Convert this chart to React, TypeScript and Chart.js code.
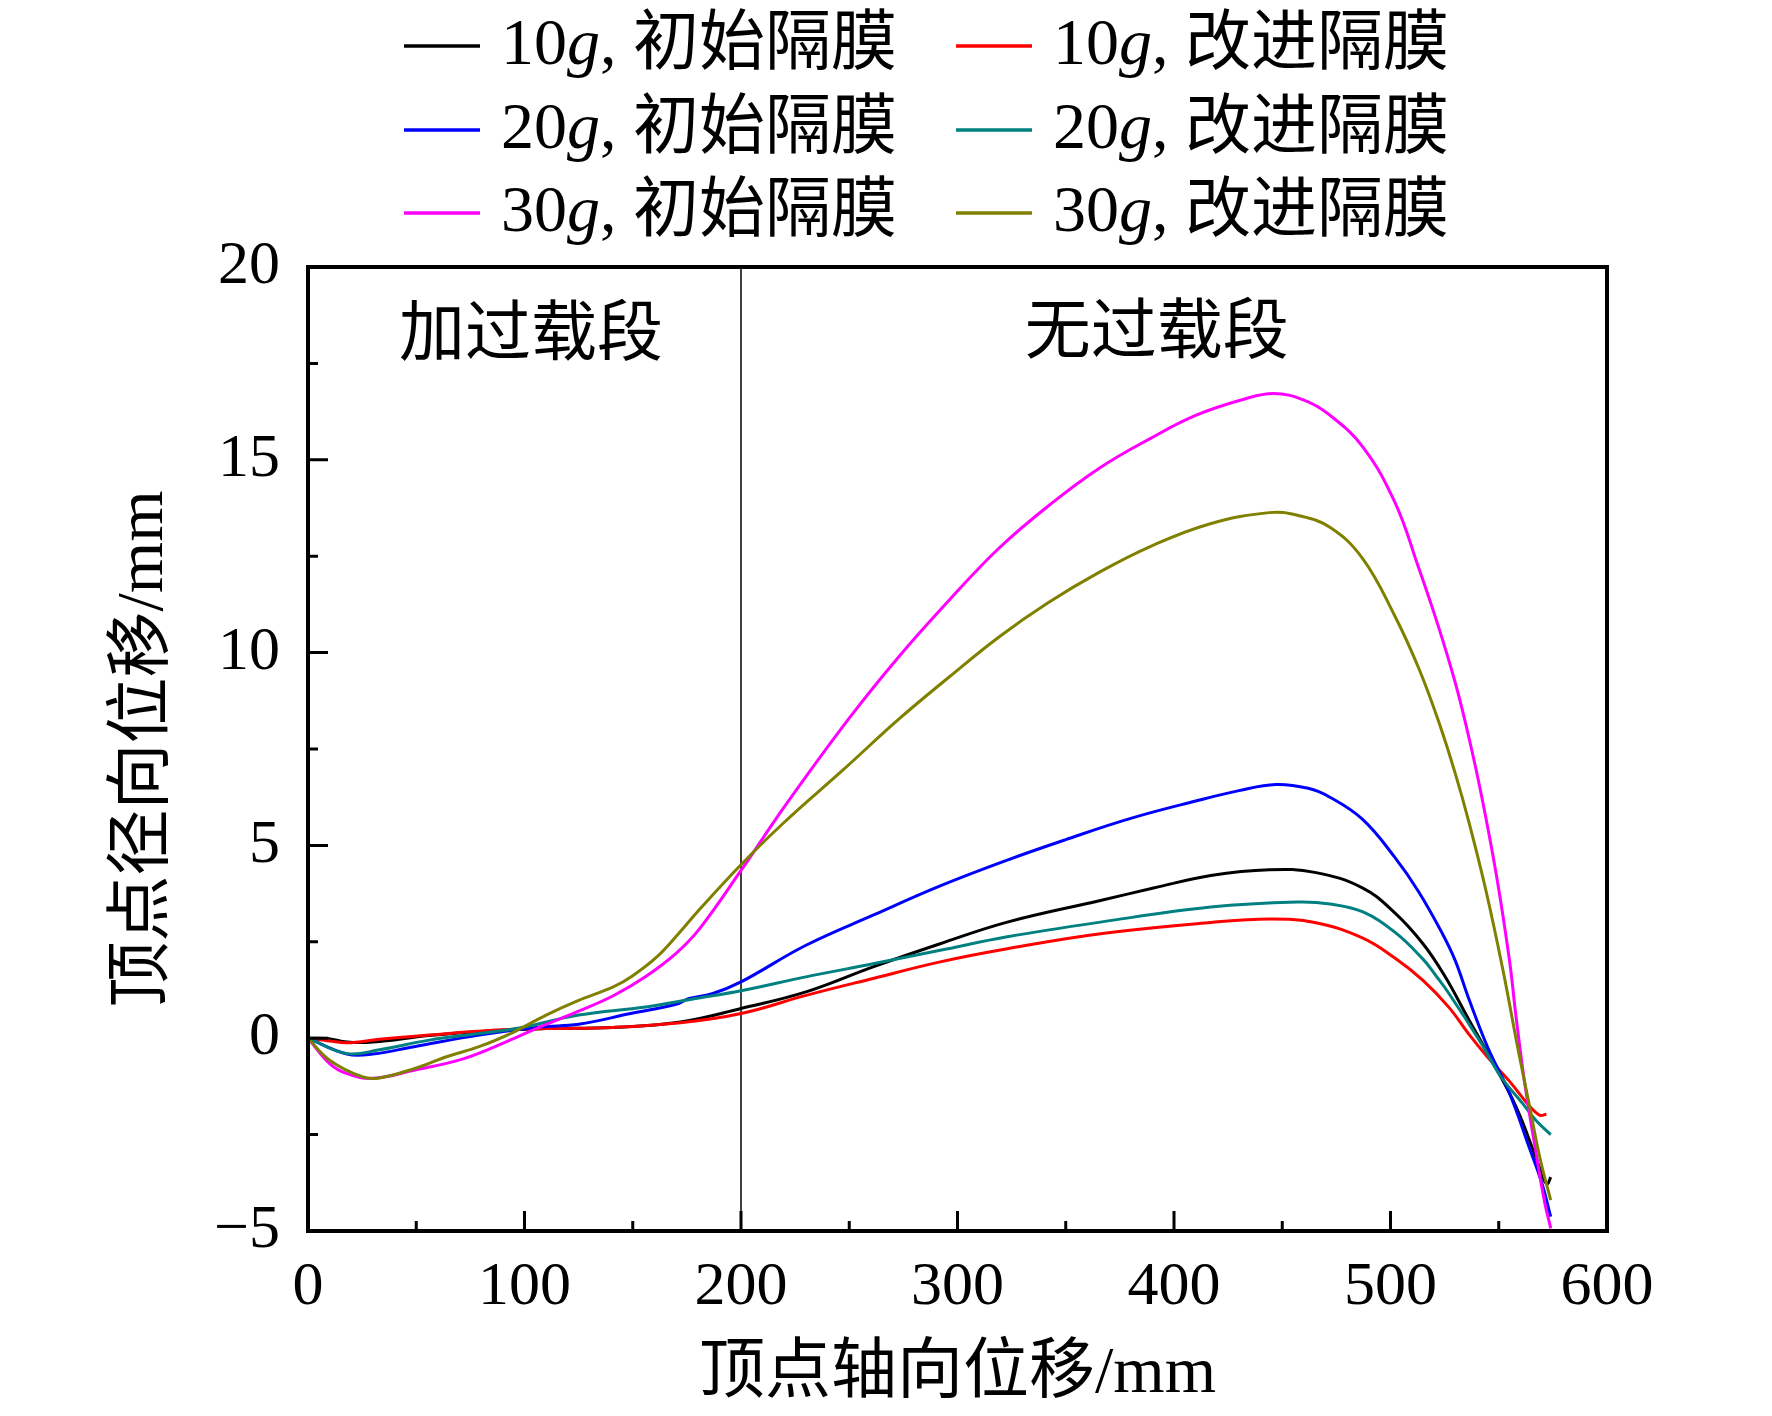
import { useEffect, useRef } from 'react';
import { Chart, registerables } from 'chart.js';

Chart.register(...registerables);

const SERIF = '"Liberation Serif", "Times New Roman", "Noto Sans CJK SC", serif';

// axis ticks
const xTicks = [0, 100, 200, 300, 400, 500, 600];
const xMinorTicks = [50, 150, 250, 350, 450, 550];
const yTicks = [-5, 0, 5, 10, 15, 20];
const yMinorTicks = [-2.5, 2.5, 7.5, 12.5, 17.5];

const xTitle = '顶点轴向位移/mm';
const yTitle = '顶点径向位移/mm';
const zoneLabels = ['加过载段', '无过载段'];
const zoneSplit = 200;

const seriesLabels = [
  '10g, 初始隔膜', '10g, 改进隔膜',
  '20g, 初始隔膜', '20g, 改进隔膜',
  '30g, 初始隔膜', '30g, 改进隔膜',
];
const seriesColors = ['#000000', '#ff0000', '#0000ff', '#008080', '#ff00ff', '#808000'];

// 10g, 初始隔膜
const x10a = [0, 9, 18, 30, 56, 87, 110, 141, 172, 200, 230, 261, 292, 323, 366, 391, 417, 444, 465, 487, 502, 515, 525, 536, 547, 558, 567, 571, 572.5, 574];
const y10a = [0, -0.01, -0.1, -0.1, 0.07, 0.2, 0.25, 0.28, 0.42, 0.77, 1.2, 1.85, 2.45, 3.01, 3.57, 3.9, 4.22, 4.37, 4.3, 3.9, 3.25, 2.45, 1.62, 0.5, -0.6, -1.78, -3.07, -3.68, -3.78, -3.6];

// 10g, 改进隔膜
const x10b = [0, 10, 18, 33, 56, 87, 110, 141, 172, 200, 230, 261, 292, 323, 366, 417, 444, 465, 487, 502, 515, 527, 536, 545, 555, 564, 569, 572];
const y10b = [0, -0.07, -0.12, -0.03, 0.08, 0.21, 0.25, 0.28, 0.4, 0.64, 1.11, 1.55, 1.98, 2.32, 2.71, 3.0, 3.09, 3.0, 2.6, 2.08, 1.5, 0.8, 0.12, -0.5, -1.12, -1.75, -2.0, -1.97];

// 20g, 初始隔膜
const x20a = [0, 18, 30, 49, 79, 107, 125, 149, 170, 176, 187, 200, 230, 261, 292, 323, 350, 380, 410, 430, 447, 462, 472, 487, 502, 513, 524, 530, 536, 545, 555, 564, 570, 574];
const y20a = [0, -0.41, -0.41, -0.22, 0.08, 0.29, 0.36, 0.64, 0.88, 1.03, 1.16, 1.46, 2.41, 3.19, 3.95, 4.62, 5.15, 5.7, 6.15, 6.42, 6.58, 6.48, 6.25, 5.68, 4.69, 3.8, 2.71, 2.0, 1.05, -0.25, -1.43, -2.82, -3.77, -4.63];

// 20g, 改进隔膜
const x20b = [0, 18, 33, 56, 79, 99, 125, 156, 179, 200, 230, 261, 292, 323, 366, 417, 457, 472, 487, 502, 515, 521, 527, 542, 551, 561, 567, 574];
const y20b = [0, -0.4, -0.3, -0.05, 0.12, 0.28, 0.6, 0.81, 1.03, 1.23, 1.59, 1.93, 2.28, 2.63, 3.01, 3.4, 3.53, 3.48, 3.28, 2.75, 2.05, 1.62, 1.16, -0.14, -1.0, -1.69, -2.12, -2.5];

// 30g, 初始隔膜
const x30a = [0, 10, 18, 30, 49, 72, 95, 107, 125, 141, 156, 170, 181, 200, 220, 250, 273, 296, 319, 343, 366, 389, 410, 431, 446, 460, 471, 487, 502, 513, 522, 530, 536, 542, 549, 555, 558, 562, 567, 571, 574];
const y30a = [0, -0.66, -0.92, -1.04, -0.83, -0.53, -0.01, 0.29, 0.7, 1.1, 1.6, 2.2, 2.85, 4.35, 6.0, 8.3, 9.9, 11.35, 12.7, 13.85, 14.8, 15.55, 16.15, 16.55, 16.72, 16.55, 16.2, 15.35, 13.9, 12.2, 10.7, 9.2, 7.85, 6.3, 4.2, 2.0, 0.55, -1.17, -2.9, -4.2, -4.93];

// 30g, 改进隔膜
const x30b = [0, 10, 25, 33, 49, 64, 79, 95, 110, 125, 141, 150, 161, 171, 181, 200, 220, 247, 273, 296, 319, 342, 366, 389, 416, 444, 457, 472, 487, 502, 513, 522, 530, 536, 544, 552, 559, 564, 569, 574];
const y30b = [0, -0.57, -1.0, -1.03, -0.79, -0.48, -0.22, 0.16, 0.6, 0.98, 1.33, 1.62, 2.1, 2.7, 3.35, 4.5, 5.6, 6.95, 8.28, 9.36, 10.4, 11.3, 12.1, 12.75, 13.33, 13.63, 13.56, 13.25, 12.45, 10.95, 9.6, 8.25, 6.85, 5.65, 3.85, 1.75, -0.31, -1.7, -3.1, -4.2];

const seriesX = [x10a, x10b, x20a, x20b, x30a, x30b];
const seriesY = [y10a, y10b, y20a, y20b, y30a, y30b];

// legend placement (canvas px)
const LEGEND_COL_X = [404, 956];
const LEGEND_ROW_Y = [46, 130, 213];

const decorPlugin = {
  id: 'decor',
  beforeDatasetsDraw(chart: any) {
    const { ctx, chartArea: a, scales } = chart;
    const px = scales.x.getPixelForValue(zoneSplit);
    ctx.save();
    ctx.strokeStyle = '#000';
    ctx.lineWidth = 1.5;
    ctx.beginPath();
    ctx.moveTo(px, a.top);
    ctx.lineTo(px, a.bottom);
    ctx.stroke();
    ctx.restore();
  },
  afterDatasetsDraw(chart: any) {
    const { ctx, chartArea: a, scales } = chart;
    ctx.save();
    ctx.strokeStyle = '#000';
    ctx.lineWidth = 3;
    ctx.beginPath();
    // inward ticks, bottom axis
    for (const v of xTicks) {
      const p = scales.x.getPixelForValue(v);
      ctx.moveTo(p, a.bottom); ctx.lineTo(p, a.bottom - 20);
    }
    for (const v of xMinorTicks) {
      const p = scales.x.getPixelForValue(v);
      ctx.moveTo(p, a.bottom); ctx.lineTo(p, a.bottom - 10);
    }
    // inward ticks, left axis
    for (const v of yTicks) {
      const p = scales.y.getPixelForValue(v);
      ctx.moveTo(a.left, p); ctx.lineTo(a.left + 20, p);
    }
    for (const v of yMinorTicks) {
      const p = scales.y.getPixelForValue(v);
      ctx.moveTo(a.left, p); ctx.lineTo(a.left + 10, p);
    }
    ctx.stroke();
    ctx.lineWidth = 4;
    ctx.strokeRect(a.left, a.top, a.right - a.left, a.bottom - a.top);
    ctx.restore();
  },
  afterDraw(chart: any) {
    const { ctx, scales } = chart;
    ctx.save();
    ctx.fillStyle = '#000';
    ctx.textBaseline = 'middle';

    // zone captions
    ctx.textAlign = 'center';
    ctx.font = `66px ${SERIF}`;
    ctx.fillText(zoneLabels[0], scales.x.getPixelForValue(103), scales.y.getPixelForValue(18.18));
    ctx.fillText(zoneLabels[1], scales.x.getPixelForValue(392), scales.y.getPixelForValue(18.22));

    // legend, two columns
    ctx.textAlign = 'left';
    seriesLabels.forEach((label, i) => {
      const lx = LEGEND_COL_X[i % 2];
      const ly = LEGEND_ROW_Y[Math.floor(i / 2)];
      ctx.strokeStyle = seriesColors[i];
      ctx.lineWidth = 3.5;
      ctx.beginPath();
      ctx.moveTo(lx, ly);
      ctx.lineTo(lx + 76, ly);
      ctx.stroke();
      const gi = label.indexOf('g');
      const parts: [string, boolean][] = [
        [label.slice(0, gi), false],
        ['g', true],
        [label.slice(gi + 1), false],
      ];
      let tx = lx + 97;
      for (const [t, italic] of parts) {
        ctx.font = `${italic ? 'italic ' : ''}66px ${SERIF}`;
        ctx.fillText(t, tx, ly + 1);
        tx += ctx.measureText(t).width;
      }
    });
    ctx.restore();
  },
};

export default function App() {
  const canvasRef = useRef<HTMLCanvasElement>(null);
  const chartRef = useRef<Chart | null>(null);

  useEffect(() => {
    if (!canvasRef.current) return;
    if (chartRef.current) { chartRef.current.destroy(); chartRef.current = null; }

    chartRef.current = new Chart(canvasRef.current, {
      type: 'line',
      data: {
        datasets: seriesLabels.map((label, i) => ({
          label,
          data: seriesX[i].map((x, j) => ({ x, y: seriesY[i][j] })),
          borderColor: seriesColors[i],
          backgroundColor: seriesColors[i],
          borderWidth: 3,
          pointRadius: 0,
          fill: false,
          tension: 0.4,
          order: seriesLabels.length - i,
        })),
      },
      options: {
        animation: false,
        responsive: false,
        layout: { padding: { top: 267, right: 165, bottom: 0, left: 0 } },
        plugins: {
          legend: { display: false },
          tooltip: { enabled: false },
        },
        scales: {
          x: {
            type: 'linear',
            min: 0,
            max: 600,
            afterBuildTicks: (s: any) => { s.ticks = xTicks.map(v => ({ value: v })); },
            afterFit: (s: any) => { s.height = 185; },
            grid: { display: false, drawTicks: false },
            border: { display: false },
            ticks: {
              padding: 20,
              color: '#000',
              maxRotation: 0,
              autoSkip: false,
              font: { family: SERIF, size: 62 },
            },
            title: {
              display: true,
              text: xTitle,
              color: '#000',
              font: { family: SERIF, size: 66 },
              padding: { top: 0, bottom: 2 },
            },
          },
          y: {
            type: 'linear',
            min: -5,
            max: 20,
            afterBuildTicks: (s: any) => { s.ticks = yTicks.map(v => ({ value: v })); },
            afterFit: (s: any) => { s.width = 308; },
            grid: { display: false, drawTicks: false },
            border: { display: false },
            ticks: {
              padding: 28,
              color: '#000',
              font: { family: SERIF, size: 62 },
              callback: (v: any) => (Number(v) < 0 ? '\u2212' + Math.abs(Number(v)) : String(v)),
            },
            title: {
              display: true,
              text: yTitle,
              color: '#000',
              font: { family: SERIF, size: 66 },
              padding: { top: 105, bottom: 0 },
            },
          },
        },
      },
      plugins: [decorPlugin],
    } as any);

    return () => { chartRef.current?.destroy(); chartRef.current = null; };
  }, []);

  return (
    <div style={{ position: 'fixed', left: 0, top: 0, width: 1772, height: 1416, background: '#fff' }}>
      <canvas ref={canvasRef} width={1772} height={1416} role="img" aria-label="顶点径向位移曲线" />
    </div>
  );
}
